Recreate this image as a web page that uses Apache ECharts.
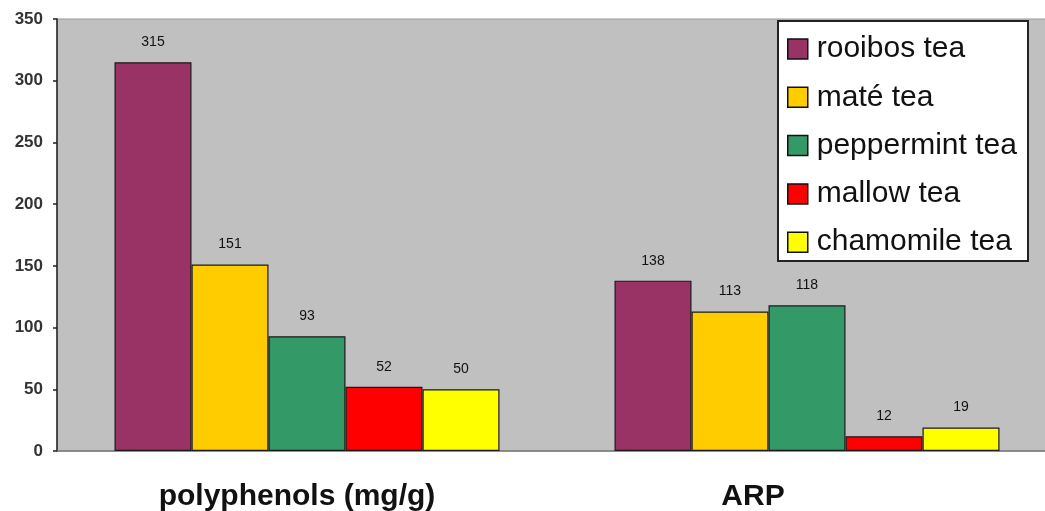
<!DOCTYPE html>
<html>
<head>
<meta charset="utf-8">
<title>Tea polyphenols and ARP</title>
<script src="https://cdn.jsdelivr.net/npm/echarts@6/dist/echarts.min.js"></script>
<style>
  html, body { margin: 0; padding: 0; background: #ffffff; }
  #chart { width: 1045px; height: 511px; }
</style>
</head>
<body>
<div id="chart"></div>
<script>
// Measured quantities (x axis) and tea varieties (series)
const categories = ['polyphenols (mg/g)', 'ARP'];
const teaNames = ['rooibos tea', 'maté tea', 'peppermint tea', 'mallow tea', 'chamomile tea'];
const teaColors = ['#993366', '#FFCC00', '#339966', '#FF0000', '#FFFF00'];

// Values per tea: [polyphenols, ARP]
const rooibos = [315, 138];
const mate = [151, 113];
const peppermint = [93, 118];
const mallow = [52, 12];
const chamomile = [50, 19];
const teaValues = [rooibos, mate, peppermint, mallow, chamomile];

// Value axis ticks
const yMin = 0;
const yMax = 350;
const yStep = 50;

const FONT = '"Liberation Sans", Arial, sans-serif';

const chart = echarts.init(document.getElementById('chart'), null, { renderer: 'canvas' });

const series = teaNames.map((name, i) => ({
  name: name,
  type: 'bar',
  data: teaValues[i],
  barGap: '0%',
  barCategoryGap: '23%',
  itemStyle: {
    color: teaColors[i],
    borderColor: '#1a1a1a',
    borderWidth: 1.2
  },
  label: {
    show: true,
    position: 'top',
    distance: 13,
    fontFamily: FONT,
    fontSize: 14,
    color: '#111111'
  }
}));

// category captions sit a little left of their bar groups
const catLabelStyle = {
  fontFamily: FONT,
  fontSize: 30,
  fontWeight: 'bold',
  color: '#111111'
};

chart.setOption({
  animation: false,
  backgroundColor: '#ffffff',
  textStyle: { fontFamily: FONT },
  grid: {
    left: 57,
    top: 19,
    width: 1000,
    bottom: 60,
    outerBoundsMode: 'none',
    containLabel: false,
    show: true,
    backgroundColor: '#C0C0C0',
    borderColor: '#9a9a9a',
    borderWidth: 1
  },
  legend: {
    orient: 'vertical',
    left: 777,
    top: 20,
    padding: [14, 10, 10, 10],
    itemWidth: 20,
    itemHeight: 20,
    itemGap: 18.3,
    icon: 'rect',
    itemStyle: { borderColor: '#111111', borderWidth: 1.5 },
    textStyle: {
      fontFamily: FONT,
      fontSize: 30,
      color: '#111111',
      padding: [0, 0, 0, 4]
    },
    data: teaNames
  },
  graphic: [{
    type: 'rect',
    z: 0,
    zlevel: 0,
    left: 777,
    top: 20,
    shape: { width: 250, height: 240 },
    style: { fill: '#ffffff', stroke: '#222222', lineWidth: 2 }
  }],
  xAxis: {
    type: 'category',
    data: categories,
    axisLine: { show: true, lineStyle: { color: '#7a7a7a', width: 1.5 } },
    axisTick: { show: false },
    axisLabel: {
      margin: 31,
      formatter: (value, idx) => (idx === 0 ? '{p|' + value + '}' : '{q|' + value + '}'),
      rich: {
        p: Object.assign({ padding: [0, 20, 0, 0] }, catLabelStyle),
        q: Object.assign({ padding: [0, 108, 0, 0] }, catLabelStyle)
      }
    }
  },
  yAxis: {
    type: 'value',
    min: yMin,
    max: yMax,
    interval: yStep,
    splitLine: { show: false },
    axisLine: { show: true, lineStyle: { color: '#222222', width: 1.5 } },
    axisTick: { show: true, length: 4, lineStyle: { color: '#222222', width: 1.5 } },
    axisLabel: {
      margin: 14,
      fontFamily: FONT,
      fontSize: 17,
      fontWeight: 'bold',
      color: '#333333'
    }
  },
  series: series
});
</script>
</body>
</html>
